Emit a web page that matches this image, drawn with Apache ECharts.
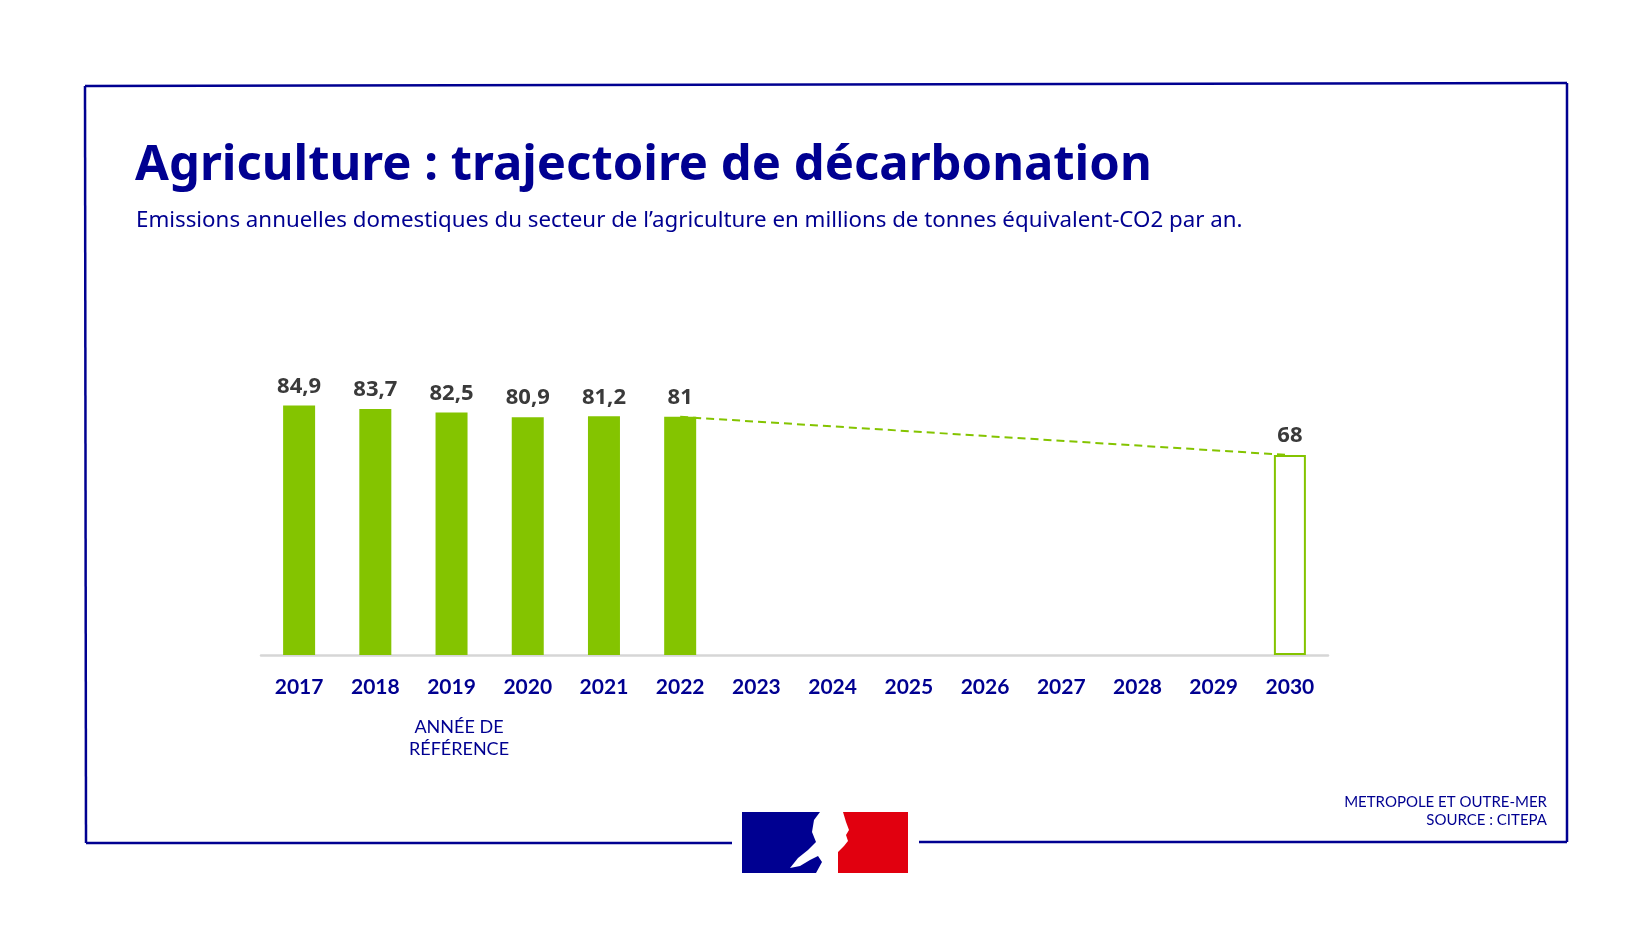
<!DOCTYPE html>
<html>
<head>
<meta charset="utf-8">
<title>Agriculture : trajectoire de décarbonation</title>
<script src="https://cdn.jsdelivr.net/npm/echarts@6/dist/echarts.min.js"></script>
<style>
html, body { margin: 0; padding: 0; background: #ffffff; }
#main { width: 1650px; height: 928px; }
</style>
</head>
<body>
<div id="main"></div>
<script>
// donnees
var annees = ['2017', '2018', '2019', '2020', '2021', '2022', '2023', '2024', '2025', '2026', '2027', '2028', '2029', '2030'];
var emissions = [84.9, 83.7, 82.5, 80.9, 81.2, 81, null, null, null, null, null, null, null, null];
var objectif2030 = [null, null, null, null, null, null, null, null, null, null, null, null, null, 68];
var trajectoire = [null, null, null, null, null, 81, null, null, null, null, null, null, null, 68];

var bleu = '#000091';
var vert = '#84c400';

var chartDom = document.getElementById('main');
var myChart = echarts.init(chartDom);

function virgule(p) {
    return String(p.value).replace('.', ',');
}

var labelValeur = {
    show: true,
    position: 'top',
    distance: 8,
    color: '#3a3a3a',
    fontFamily: 'Open Sans',
    fontWeight: 'bold',
    fontSize: 22,
    formatter: virgule
};

var option = {
    backgroundColor: '#ffffff',
    animation: false,
    title: [
        {
            text: 'Agriculture : trajectoire de décarbonation',
            left: 130,
            top: 137,
            textStyle: { color: bleu, fontFamily: 'Noto Sans', fontWeight: 'bold', fontSize: 49 }
        },
        {
            text: 'Emissions annuelles domestiques du secteur de l\u2019agriculture en millions de tonnes équivalent-CO2 par an.',
            left: 131,
            top: 205,
            textStyle: { color: bleu, fontFamily: 'Noto Sans', fontWeight: 'normal', fontSize: 22.3 }
        }
    ],
    grid: {
        left: 261,
        width: 1067,
        top: 361,
        height: 294
    },
    xAxis: {
        type: 'category',
        data: annees,
        axisLine: { lineStyle: { color: '#d6d6d6', width: 2.5 } },
        axisTick: { show: false },
        axisLabel: {
            margin: 22,
            color: bleu,
            fontFamily: 'Lato',
            fontWeight: 'bold',
            fontSize: 21
        }
    },
    yAxis: {
        type: 'value',
        min: 0,
        max: 100,
        show: false,
        splitLine: { show: false }
    },
    series: [
        {
            // trajectoire pointillee 2022 -> 2030
            type: 'line',
            data: trajectoire,
            connectNulls: true,
            symbol: 'none',
            z: 1,
            lineStyle: { color: vert, width: 2, type: [8, 5] }
        },
        {
            type: 'bar',
            data: emissions,
            barWidth: 32,
            barGap: '-100%',
            z: 3,
            itemStyle: { color: vert },
            label: labelValeur
        },
        {
            type: 'bar',
            data: objectif2030,
            barWidth: 32,
            z: 3,
            itemStyle: { color: '#ffffff', borderColor: vert, borderWidth: 2 },
            label: labelValeur
        }
    ],
    graphic: [
        // cadre
        { type: 'polyline', shape: { points: [[85, 86], [1567, 83]] }, style: { stroke: bleu, lineWidth: 2.5, fill: null } },
        { type: 'polyline', shape: { points: [[85, 86], [86, 843]] }, style: { stroke: bleu, lineWidth: 2.5, fill: null } },
        { type: 'polyline', shape: { points: [[1567, 83], [1567, 842]] }, style: { stroke: bleu, lineWidth: 2.5, fill: null } },
        { type: 'polyline', shape: { points: [[86, 843], [732, 843]] }, style: { stroke: bleu, lineWidth: 2.5, fill: null } },
        { type: 'polyline', shape: { points: [[919, 842], [1567, 842]] }, style: { stroke: bleu, lineWidth: 2.5, fill: null } },
        // bloc marque
        { type: 'rect', shape: { x: 742, y: 812, width: 88, height: 61 }, style: { fill: bleu } },
        { type: 'rect', shape: { x: 838, y: 812, width: 70, height: 61 }, style: { fill: '#e1000f' } },
        {
            type: 'polygon',
            shape: { points: [[820, 812], [843, 812], [846, 822], [849, 830], [846, 835], [848, 841], [844, 846], [838, 852], [834, 860], [834, 873], [816, 873], [822, 862], [818, 856], [810, 860], [800, 866], [790, 868], [798, 858], [808, 850], [816, 842], [812, 832], [814, 820]] },
            style: { fill: '#ffffff' }
        },
        // annotation annee de reference
        {
            type: 'text',
            style: {
                x: 459, y: 716,
                text: 'ANNÉE DE\nRÉFÉRENCE',
                align: 'center',
                fill: bleu,
                font: '18px Lato',
                lineHeight: 22
            }
        },
        // source
        {
            type: 'text',
            style: {
                x: 1547, y: 793,
                text: 'METROPOLE ET OUTRE-MER\nSOURCE : CITEPA',
                align: 'right',
                fill: bleu,
                font: '15px Lato',
                lineHeight: 18
            }
        }
    ]
};

myChart.setOption(option);
</script>
</body>
</html>
